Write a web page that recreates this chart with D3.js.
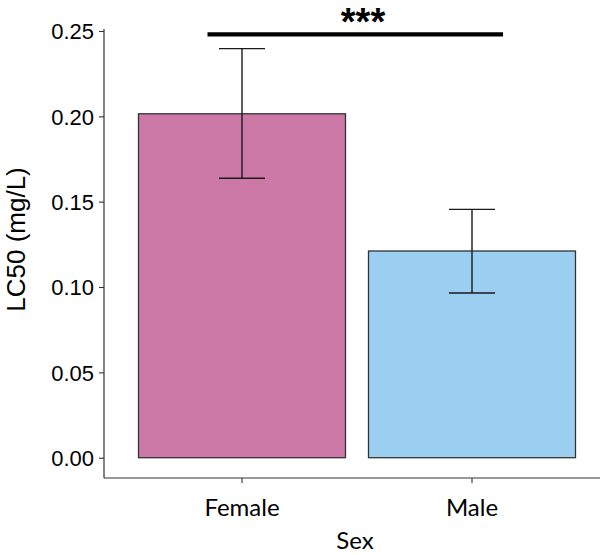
<!DOCTYPE html>
<html>
<head>
<meta charset="utf-8">
<script src="https://cdn.jsdelivr.net/npm/d3@7"></script>
<style>
  html, body { margin: 0; padding: 0; background: #fff; }
  svg { display: block; }
</style>
</head>
<body>
<svg id="chart" width="600" height="555"></svg>
<script>
// ---- data ----
const categories = ["Female", "Male"];
const lc50 = [0.2015, 0.1211];
const errLow = [0.1637, 0.0965];
const errHigh = [0.2397, 0.1455];
const barColors = ["#CC79A7", "#9BCFF2"];
const yTicks = [0.00, 0.05, 0.10, 0.15, 0.20, 0.25];
const sigLabel = "***";
const sigStart = 0.85, sigEnd = 2.135, sigY = 0.248;
const yTitle = "LC50 (mg/L)";
const xTitle = "Sex";

// ---- layout ----
const svg = d3.select("#chart");
const plotLeft = 104, plotRight = 610, plotTop = 31, plotZero = 457.7, axisY = 478;

const y = d3.scaleLinear().domain([0, 0.25]).range([plotZero, plotTop]);
const x = d3.scaleBand().domain(categories).range([plotLeft, plotRight])
  .paddingInner(0.1).paddingOuter(0.15);
const xu = d3.scaleLinear().domain([0.4, 2.6]).range([plotLeft, plotRight]);

const axisColor = "#333";

// bars
svg.append("g").selectAll("rect")
  .data(categories)
  .join("rect")
  .attr("x", d => x(d))
  .attr("width", x.bandwidth())
  .attr("y", (d, i) => y(lc50[i]))
  .attr("height", (d, i) => y(0) - y(lc50[i]))
  .attr("fill", (d, i) => barColors[i])
  .attr("stroke", "#333")
  .attr("stroke-width", 1.3);

// error bars
const whisk = (xu(1.1) - xu(0.9)) / 2;
const eg = svg.append("g").attr("stroke", "#1a1a1a").attr("stroke-width", 1.4);
categories.forEach((c, i) => {
  const cx = x(c) + x.bandwidth() / 2;
  eg.append("line").attr("x1", cx).attr("x2", cx)
    .attr("y1", y(errLow[i])).attr("y2", y(errHigh[i]));
  eg.append("line").attr("x1", cx - whisk).attr("x2", cx + whisk)
    .attr("y1", y(errLow[i])).attr("y2", y(errLow[i]));
  eg.append("line").attr("x1", cx - whisk).attr("x2", cx + whisk)
    .attr("y1", y(errHigh[i])).attr("y2", y(errHigh[i]));
});

// y axis
const yAxis = svg.append("g")
  .attr("transform", `translate(${plotLeft},0)`)
  .call(d3.axisLeft(y).tickValues(yTicks).tickFormat(d3.format(".2f")).tickSize(5).tickSizeOuter(0).tickPadding(5));
yAxis.select(".domain").attr("stroke", axisColor).attr("stroke-width", 1.2)
  .attr("d", `M0,${plotTop - 2}V${axisY}`);
yAxis.selectAll(".tick line").attr("stroke", axisColor).attr("stroke-width", 1.1);
yAxis.selectAll(".tick text")
  .attr("fill", "#000")
  .style("font-family", "'Liberation Sans', Arial, sans-serif")
  .style("font-size", "22px")
  .attr("dy", "0.35em");

// x axis
const xAxis = svg.append("g")
  .attr("transform", `translate(0,${axisY})`)
  .call(d3.axisBottom(x).tickSize(5).tickSizeOuter(0).tickPadding(16));
xAxis.select(".domain").attr("stroke", axisColor).attr("stroke-width", 1.2)
  .attr("d", `M${plotLeft},0H${plotRight}`);
xAxis.selectAll(".tick line").attr("stroke", axisColor).attr("stroke-width", 1.1);
xAxis.selectAll(".tick text")
  .attr("fill", "#000")
  .style("font-family", "Lato, 'Open Sans', sans-serif")
  .style("font-size", "24px");

// axis titles
svg.append("text")
  .attr("transform", `translate(25,${(165 + 314) / 2}) rotate(-90)`)
  .attr("text-anchor", "middle")
  .style("font-family", "'Liberation Sans', Arial, sans-serif")
  .style("font-size", "26px")
  .attr("fill", "#000")
  .text(yTitle);

svg.append("text")
  .attr("x", 355).attr("y", 549)
  .attr("text-anchor", "middle")
  .style("font-family", "Lato, 'Open Sans', sans-serif")
  .style("font-size", "24px")
  .attr("fill", "#000")
  .text(xTitle);

// significance bar
svg.append("line")
  .attr("x1", xu(sigStart)).attr("x2", xu(sigEnd))
  .attr("y1", y(sigY)).attr("y2", y(sigY))
  .attr("stroke", "#000").attr("stroke-width", 4.2);
svg.append("text")
  .attr("x", 363).attr("y", 35)
  .attr("text-anchor", "middle")
  .style("font-family", "'Liberation Sans', Arial, sans-serif")
  .style("font-size", "38px")
  .style("font-weight", "bold")
  .attr("fill", "#000")
  .text(sigLabel);
</script>
</body>
</html>
